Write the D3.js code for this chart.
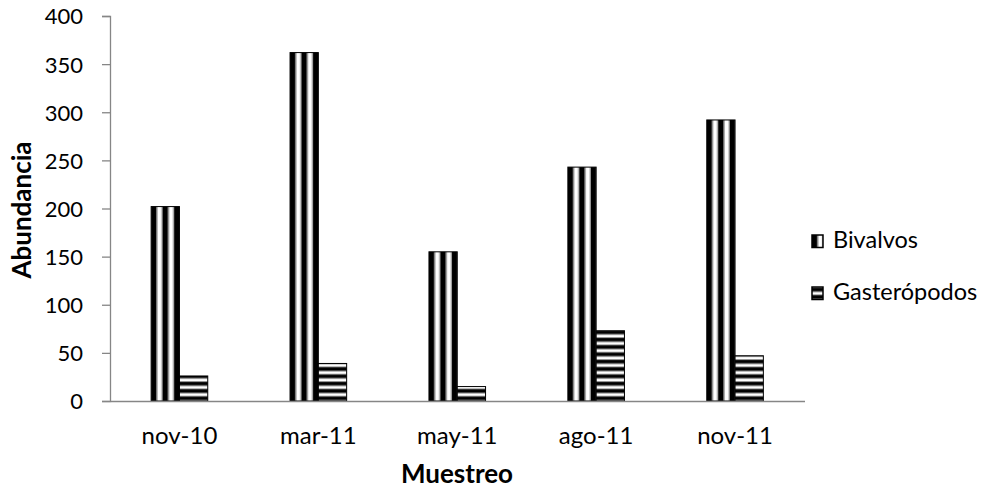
<!DOCTYPE html>
<html>
<head>
<meta charset="utf-8">
<script src="https://cdn.jsdelivr.net/npm/d3@7"></script>
<style>
  html, body { margin: 0; padding: 0; background: #fff; }
  svg text { font-family: Lato, "Open Sans", sans-serif; fill: #000; }
</style>
</head>
<body>
<svg id="chart" width="989" height="488"></svg>
<script>
// Sampling dates and abundance per group
const categories = ["nov-10", "mar-11", "may-11", "ago-11", "nov-11"];
const seriesNames = ["Bivalvos", "Gasterópodos"];
const bivalvos = [202, 362, 155, 243, 292];
const gasteropodos = [26, 39, 15, 73, 47];
const yTicks = [0, 50, 100, 150, 200, 250, 300, 350, 400];

const svg = d3.select("#chart");
const margin = { left: 110, right: 184.5, top: 16, bottom: 87 };
const W = 989, H = 488;

const x = d3.scaleBand().domain(categories).range([margin.left, W - margin.right]).padding(0);
const barW = 28.3;
const xs = d3.scaleBand().domain(seriesNames).range([0, barW * 2]);
const y = d3.scaleLinear().domain([0, 400]).range([H - margin.bottom, margin.top]);

const rows = categories.map((c, i) => ({ cat: c, values: [bivalvos[i], gasteropodos[i]] }));
const bars = [];
rows.forEach((r, i) => {
  r.values.forEach((v, j) => {
    const bx = x(r.cat) + x.bandwidth() / 2 - barW + xs(seriesNames[j]);
    bars.push({ id: `p${i}_${j}`, series: j, x: bx, y: y(v), w: xs.bandwidth(), h: y(0) - y(v) });
  });
});

const defs = svg.append("defs");
// Wide vertical stripes, anchored to each bar's left edge
function verticalPattern(id, x0) {
  const p = defs.append("pattern").attr("id", id).attr("patternUnits", "userSpaceOnUse")
    .attr("x", x0).attr("y", 0).attr("width", 11.55).attr("height", 10);
  p.append("rect").attr("width", 11.55).attr("height", 10).attr("fill", "#fff");
  p.append("rect").attr("x", 5.2).attr("width", 1.3).attr("height", 10).attr("fill", "#9a9a9a");
  p.append("rect").attr("x", 10.2).attr("width", 1.35).attr("height", 10).attr("fill", "#9a9a9a");
  p.append("rect").attr("x", 0).attr("width", 5.2).attr("height", 10).attr("fill", "#000");
}
// Wide horizontal stripes, anchored to the baseline
function horizontalPattern(id, y0) {
  const p = defs.append("pattern").attr("id", id).attr("patternUnits", "userSpaceOnUse")
    .attr("x", 0).attr("y", y0).attr("width", 10).attr("height", 7.33);
  p.append("rect").attr("width", 10).attr("height", 7.33).attr("fill", "#fff");
  p.append("rect").attr("y", 4.3).attr("width", 10).attr("height", 1).attr("fill", "#9a9a9a");
  p.append("rect").attr("y", 0).attr("width", 10).attr("height", 1).attr("fill", "#9a9a9a");
  p.append("rect").attr("y", 1).attr("width", 10).attr("height", 3.3).attr("fill", "#000");
}

bars.forEach(b => {
  if (b.series === 0) verticalPattern(b.id, b.x);
  else horizontalPattern(b.id, y(0) + 2);
});

svg.append("g").selectAll("rect").data(bars).join("rect")
  .attr("x", d => d.x).attr("y", d => d.y)
  .attr("width", d => d.w).attr("height", d => d.h)
  .attr("fill", d => `url(#${d.id})`)
  .attr("stroke", "#000").attr("stroke-width", 1);

// Y axis
const yAxis = d3.axisLeft(y).tickValues(yTicks).tickSize(8).tickPadding(19);
const gy = svg.append("g").attr("transform", `translate(${margin.left},0)`).call(yAxis);
gy.select(".domain").attr("stroke", "#868686").attr("stroke-width", 1.3);
gy.selectAll(".tick line").attr("stroke", "#868686").attr("stroke-width", 1.3);
gy.selectAll(".tick text").attr("font-size", 22).attr("font-family", "Lato, sans-serif").attr("fill", "#000").attr("dy", "0.36em");

// X axis
const xAxis = d3.axisBottom(x).tickSize(0).tickPadding(0);
const gx = svg.append("g").attr("transform", `translate(0,${y(0)})`).call(xAxis);
gx.select(".domain").attr("stroke", "#868686").attr("stroke-width", 1.3);
gx.selectAll(".tick text").attr("font-size", 24).attr("font-family", "Lato, sans-serif").attr("fill", "#000")
  .attr("y", 444 - y(0)).attr("dy", "0");

// Axis titles
svg.append("text").attr("transform", "translate(31,210) rotate(-90)")
  .attr("text-anchor", "middle").attr("font-size", 26).attr("font-weight", "bold").text("Abundancia");
svg.append("text").attr("x", 457).attr("y", 483)
  .attr("text-anchor", "middle").attr("font-size", 26).attr("font-weight", "bold").text("Muestreo");

// Legend
const leg = svg.append("g");
const legY = [235, 287];
verticalPattern("legV", 812);
horizontalPattern("legH", 287);
seriesNames.forEach((n, i) => {
  leg.append("rect").attr("x", 812).attr("y", legY[i]).attr("width", 11).attr("height", 12.5)
    .attr("fill", i === 0 ? "url(#legV)" : "url(#legH)").attr("stroke", "#000").attr("stroke-width", 1.5);
  leg.append("text").attr("x", 833).attr("y", legY[i] + 13).attr("font-size", 23.5).text(n);
});
</script>
</body>
</html>
